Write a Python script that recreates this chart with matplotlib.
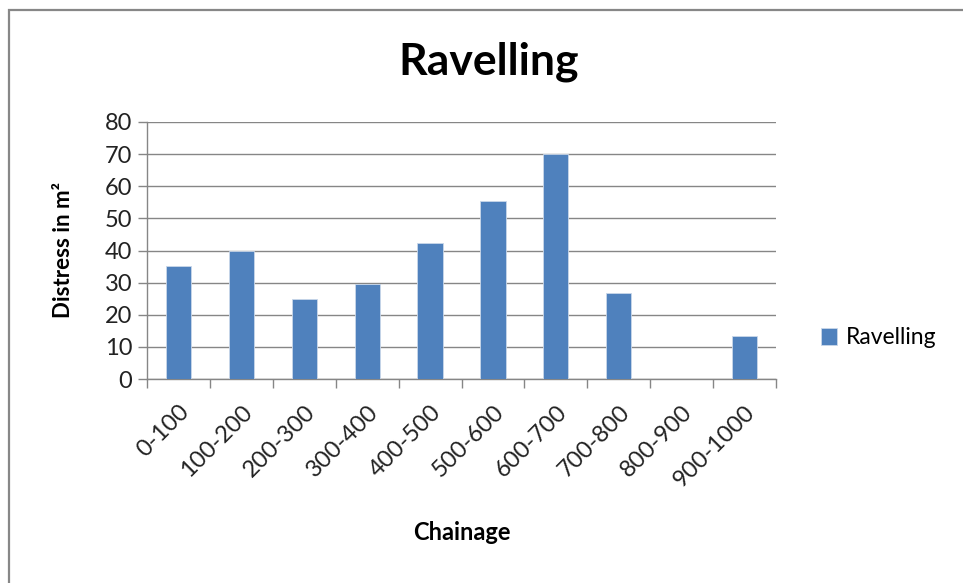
import matplotlib
matplotlib.use("Agg")
import matplotlib.pyplot as plt
from matplotlib.lines import Line2D
import numpy as np

plt.rcParams['font.family'] = ['Lato', 'DejaVu Sans']

categories = ["0-100", "100-200", "200-300", "300-400", "400-500",
              "500-600", "600-700", "700-800", "800-900", "900-1000"]
ravelling = [35.2, 39.8, 25.0, 29.7, 42.3, 55.5, 70.0, 26.7, 0, 13.5]
y_ticks = [0, 10, 20, 30, 40, 50, 60, 70, 80]

bar_color = "#4F81BD"
grid_color = "#868686"

fig = plt.figure(figsize=(9.63, 5.83), dpi=100)
ax = fig.add_axes([147 / 963, 1 - 379 / 583, 629 / 963, 257 / 583])

x = np.arange(len(categories))
ax.bar(x, ravelling, width=0.4, color=bar_color, edgecolor="#C9D7EA",
       linewidth=0.6, label="Ravelling", zorder=3)

ax.set_xlim(-0.5, len(categories) - 0.5)
ax.set_ylim(0, 80)
ax.set_yticks(y_ticks)
ax.yaxis.grid(True, color=grid_color, linewidth=1.0, zorder=0)
ax.tick_params(axis='y', length=6.5, width=1, color=grid_color,
               labelsize=17, pad=4, labelcolor="#222222")

ax.set_xticks(x)
ax.set_xticklabels(categories, rotation=45, ha='right',
                   rotation_mode='anchor', fontsize=17, color="#222222")
ax.tick_params(axis='x', which='major', length=0, pad=16)
ax.set_xticks(np.arange(-0.5, len(categories), 1.0), minor=True)
ax.tick_params(axis='x', which='minor', length=6.5, width=1, color=grid_color)

for side in ("top", "right"):
    ax.spines[side].set_visible(False)
for side in ("left", "bottom"):
    ax.spines[side].set_color(grid_color)
    ax.spines[side].set_linewidth(1.0)

ax.set_ylabel("Distress in m²", fontsize=16, fontweight='bold', labelpad=22)
ax.set_xlabel("Chainage", fontsize=17, fontweight='bold', labelpad=22)

fig.text(489 / 963, 1 - 62 / 583, "Ravelling", fontsize=32, fontweight='bold',
         ha='center', va='center')

leg = fig.legend(loc='center left', bbox_to_anchor=(800 / 963, 1 - 338 / 583),
                 frameon=False, fontsize=16.5, handlelength=0.7,
                 handleheight=0.7, handletextpad=0.4)

border_x = 8.5 / 963
border_y = 1 - 9.5 / 583
fig.add_artist(Line2D([border_x, border_x, 1.0], [0.0, border_y, border_y],
                      transform=fig.transFigure, color="#878787",
                      linewidth=1.6, solid_joinstyle='miter'))

fig.savefig("out.png", dpi=100, facecolor="white")
